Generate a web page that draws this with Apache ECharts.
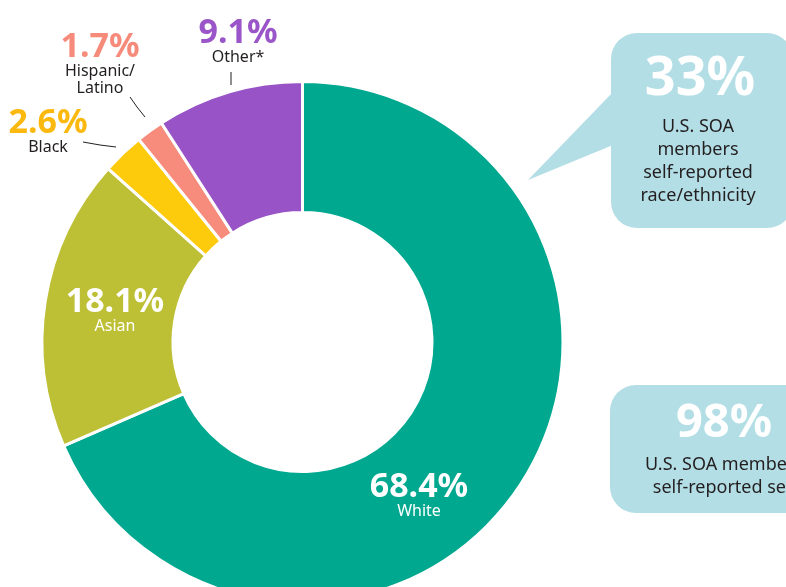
<!DOCTYPE html>
<html>
<head>
<meta charset="utf-8">
<script src="https://cdn.jsdelivr.net/npm/echarts@6/dist/echarts.min.js"></script>
<style>
  html, body { margin: 0; padding: 0; background: #fff; }
  #chart { width: 786px; height: 587px; }
</style>
</head>
<body>
<div id="chart"></div>
<script>
// data
const categories = ['White', 'Asian', 'Black', 'Hispanic/\nLatino', 'Other*'];
const shares = [68.4, 18.1, 2.6, 1.7, 9.1];
const calloutValues = ['33%', '98%'];
const calloutTexts = ['U.S. SOA\nmembers\nself-reported\nrace/ethnicity', 'U.S. SOA members\nself-reported sex'];

// styling
const sliceColors = ['#00a88f', '#bdbf35', '#fdcb0b', '#f78c7d', '#9853c6'];
const pctKeys = ['pIn', 'pIn', 'pBlack', 'pHisp', 'pOther'];
const nameKeys = ['nIn', 'nIn', 'nOut', 'nOut', 'nOut'];
const labelSpots = [[419, 471], [115, 286], [48, 107], [100, 31], [238, 17]];
const leaderLines = [null, null,
    [[83, 142], [100, 145], [116, 147]],
    [[130, 97], [137, 107], [145, 117]],
    [[231, 72], [231, 78], [231, 85]]];
const bubbleFill = '#b3dee5';
const ink = '#231f20';
const font = 'Noto Sans';

const pieData = categories.map((c, i) => ({
    name: c,
    value: shares[i],
    itemStyle: {color: sliceColors[i]},
    labelLine: {show: leaderLines[i] !== null}
}));

const option = {
    animation: false,
    textStyle: {fontFamily: font},
    series: [{
        type: 'pie',
        center: [302.5, 342],
        radius: [129.5, 260.5],
        startAngle: 90,
        clockwise: true,
        avoidLabelOverlap: false,
        itemStyle: {borderColor: '#fff', borderWidth: 3},
        emphasis: {disabled: true},
        label: {
            show: true,
            position: 'outside',
            formatter: function (p) {
                const i = p.dataIndex;
                const lines = p.name.split('\n').map(s => '{' + nameKeys[i] + '|' + s + '}');
                return '{' + pctKeys[i] + '|' + p.value.toFixed(1) + '%}\n' + lines.join('\n');
            },
            rich: {
                pIn: {fontFamily: font, fontSize: 34, fontWeight: 'bold', color: '#fff', lineHeight: 32},
                pBlack: {fontFamily: font, fontSize: 34, fontWeight: 'bold', color: '#fbb80f', lineHeight: 32},
                pHisp: {fontFamily: font, fontSize: 34, fontWeight: 'bold', color: '#f68b7b', lineHeight: 32},
                pOther: {fontFamily: font, fontSize: 34, fontWeight: 'bold', color: '#9a55c8', lineHeight: 32},
                nIn: {fontFamily: font, fontSize: 16, color: '#fff', lineHeight: 17},
                nOut: {fontFamily: font, fontSize: 16, color: ink, lineHeight: 17}
            }
        },
        labelLine: {lineStyle: {color: ink, width: 1}},
        labelLayout: function (p) {
            const i = p.dataIndex;
            const out = {x: labelSpots[i][0], y: labelSpots[i][1], align: 'center', verticalAlign: 'top'};
            if (leaderLines[i]) out.labelLinePoints = leaderLines[i];
            return out;
        },
        data: pieData
    }],
    graphic: [
        {type: 'rect', shape: {x: 611, y: 33, width: 182, height: 195, r: 26}, style: {fill: bubbleFill}},
        {type: 'polygon', shape: {points: [[613, 92], [528, 180], [613, 145]]}, style: {fill: bubbleFill}},
        {type: 'text', x: 700, y: 80, style: {text: calloutValues[0], fill: '#fff', font: 'bold 54px "Noto Sans"', align: 'center', verticalAlign: 'middle'}},
        {type: 'text', x: 698, y: 115.5, style: {text: calloutTexts[0], fill: ink, font: '18px "Noto Sans"', lineHeight: 23, align: 'center', verticalAlign: 'top'}},
        {type: 'rect', shape: {x: 610, y: 385, width: 240, height: 128, r: 26}, style: {fill: bubbleFill}},
        {type: 'text', x: 724, y: 424, style: {text: calloutValues[1], fill: '#fff', font: 'bold 47px "Noto Sans"', align: 'center', verticalAlign: 'middle'}},
        {type: 'text', x: 724, y: 453.5, style: {text: calloutTexts[1], fill: ink, font: '18px "Noto Sans"', lineHeight: 23, align: 'center', verticalAlign: 'top'}}
    ]
};

const myChart = echarts.init(document.getElementById('chart'));
myChart.setOption(option);
</script>
</body>
</html>
